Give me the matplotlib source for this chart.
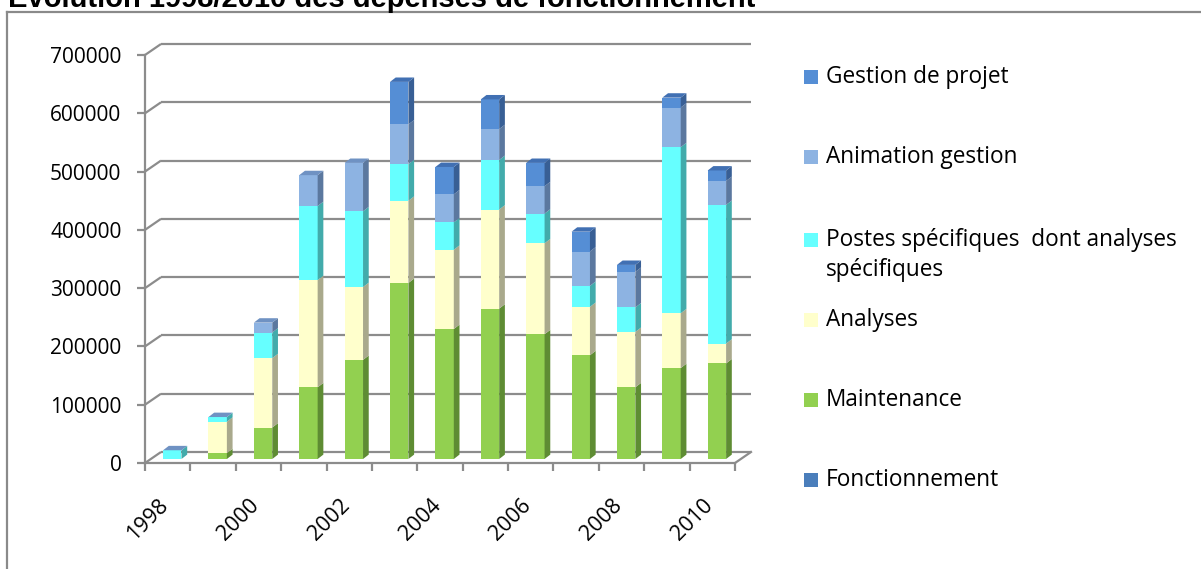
import matplotlib
matplotlib.use("Agg")
import matplotlib.pyplot as plt
from matplotlib.patches import Polygon, Rectangle
from matplotlib.lines import Line2D
from matplotlib.transforms import ScaledTranslation
import numpy as np

# ---------------- data ----------------
years = [1998, 1999, 2000, 2001, 2002, 2003, 2004, 2005, 2006, 2007, 2008, 2009, 2010]
fonctionnement = [0, 0, 0, 0, 0, 0, 0, 0, 0, 0, 0, 0, 0]
maintenance = [0, 10000, 54000, 123000, 170000, 302000, 223000, 258000, 214000, 178000, 123000, 156000, 164000]
analyses = [0, 54000, 119000, 184000, 125000, 141000, 136000, 170000, 156000, 83000, 95000, 94000, 34000]
postes = [15000, 8000, 44000, 127000, 130000, 63000, 47000, 85000, 51000, 36000, 42000, 285000, 238000]
animation = [0, 0, 17000, 53000, 83000, 68000, 48000, 53000, 47000, 59000, 61000, 68000, 41000]
gestion = [0, 0, 0, 0, 0, 73000, 47000, 51000, 40000, 34000, 12000, 17000, 18000]

series_names = ["Fonctionnement", "Maintenance", "Analyses",
                "Postes spécifiques  dont analyses\nspécifiques",
                "Animation gestion", "Gestion de projet"]
series_values = [fonctionnement, maintenance, analyses, postes, animation, gestion]
front_colors = ["#4a7ebb", "#92d050", "#ffffcc", "#66ffff", "#8db3e2", "#558ed5"]
side_colors = ["#2f5488", "#5e8c33", "#a9a98c", "#42abab", "#5b789f", "#385f95"]
y_ticks = [0, 100000, 200000, 300000, 400000, 500000, 600000, 700000]
title = "Evolution 1998/2010 des dépenses de fonctionnement"

# ---------------- figure ----------------
W, H = 1201, 569
DPI = 100
plt.rcParams['font.family'] = ['Open Sans', 'DejaVu Sans']
fig = plt.figure(figsize=(W / DPI, H / DPI), dpi=DPI)
fig.patch.set_facecolor("white")

def fx(px):
    return px / W

def fy(py):
    return 1 - py / H

AX_L, AX_R, AX_B, AX_T = 145, 735, 463, 55
ax = fig.add_axes([fx(AX_L), fy(AX_B), (AX_R - AX_L) / W, (AX_B - AX_T) / H])
n = len(years)
x = np.arange(n)
ax.set_xlim(-0.5, n - 0.5)
ax.set_ylim(0, 700000)
for s in ax.spines.values():
    s.set_visible(False)
ax.patch.set_visible(False)

ux = (AX_R - AX_L) / n          # px per x unit
uy = (AX_B - AX_T) / 700000.0   # px per y unit

def dxp(px):
    return px / ux

def dyp(py):
    return py / uy

grid_col = "#8c8c8c"
glw = 1.6
# back wall offset
wdx, wdy = dxp(16), dyp(11)
x0, x1 = -0.5, n - 0.5
for v in y_ticks:
    ax.plot([x0, x0 + wdx], [v, v + wdy], color=grid_col, lw=glw, zorder=1, clip_on=False,
            solid_capstyle="butt")
    ax.plot([x0 + wdx, x1 + wdx], [v + wdy, v + wdy], color=grid_col, lw=glw, zorder=1,
            clip_on=False, solid_capstyle="butt")
# floor right diagonal and front x axis
ax.plot([x1, x1 + wdx], [0, wdy], color=grid_col, lw=glw, zorder=1, clip_on=False)
ax.plot([x0, x1], [0, 0], color=grid_col, lw=glw, zorder=4, clip_on=False)
ax.plot([x0, x0], [0, 700000], color=grid_col, lw=glw, zorder=4, clip_on=False)

# ticks
ax.set_yticks(y_ticks)
ax.set_yticklabels([str(v) for v in y_ticks])
ax.tick_params(axis="y", direction="out", length=6, width=1.6, color=grid_col,
               pad=11, labelsize=15, labelcolor="#000000")
ax.set_xticks([])
ax.set_xticks(np.arange(-0.5, n, 1.0), minor=True)
ax.tick_params(axis="x", which="minor", direction="out", length=5.5, width=1.6, color=grid_col)

# x labels (every other year)
lab_off = ax.transData + ScaledTranslation(5 / DPI, -32 / DPI, fig.dpi_scale_trans)
for i, yr in enumerate(years):
    if i % 2 == 0:
        ax.text(i, 0, str(yr), transform=lab_off, rotation=45, ha="right", va="top",
                fontsize=15.5, color="#000000")

# bars (3D look)
bw = 18.4 / ux
bx = dxp(4.6)
by = dyp(4)
sdx, sdy = dxp(5.7), dyp(4.4)
bottoms = np.zeros(n)
for vals, fc, sc in zip(series_values, front_colors, side_colors):
    vals = np.array(vals, dtype=float)
    ax.bar(x + bx, vals, width=bw, bottom=bottoms + by, color=fc, linewidth=0, zorder=3)
    for i in range(n):
        if vals[i] <= 0:
            continue
        xr = x[i] + bx + bw / 2
        b = bottoms[i] + by
        t = b + vals[i]
        ax.add_patch(Polygon([(xr, b), (xr + sdx, b + sdy), (xr + sdx, t + sdy), (xr, t)],
                             closed=True, facecolor=sc, edgecolor="none", zorder=3))
    bottoms = bottoms + vals

gest = np.array(gestion)
for i in range(n):
    xl = x[i] + bx - bw / 2
    xr = x[i] + bx + bw / 2
    t = bottoms[i] + by
    tc = "#4170b3" if gest[i] > 0 else "#6f92c3"
    ax.add_patch(Polygon([(xl, t), (xl + sdx, t + sdy), (xr + sdx, t + sdy), (xr, t)],
                         closed=True, facecolor=tc, edgecolor="none", zorder=3))

# legend (drawn manually, reversed order)
leg_y = [480, 400, 320, 240, 157, 77]
for name, fc, yy in zip(series_names, front_colors, leg_y):
    fig.add_artist(Rectangle((fx(804), fy(yy + 7)), 14 / W, 14 / H,
                             facecolor=fc, edgecolor="none", transform=fig.transFigure))
    lines = name.split("\n")
    for k, ln in enumerate(lines):
        fig.text(fx(826), fy(yy + 30 * k), ln, ha="left", va="center",
                 fontsize=16.3, color="#000000")

# outer chart frame (only left and top visible)
fig.add_artist(Line2D([fx(7), fx(7)], [fy(12), 0], color="#8a8a8a", lw=1.6,
                      transform=fig.transFigure))
fig.add_artist(Line2D([fx(7), 1], [fy(12), fy(12)], color="#8a8a8a", lw=1.6,
                      transform=fig.transFigure))

# title (cut at the top, as in the original)
fig.text(fx(8), fy(7), title, ha="left", va="baseline", fontsize=21,
         fontweight="bold", family=["Liberation Sans", "DejaVu Sans"], color="#000000")

fig.savefig("out.png", dpi=DPI, facecolor="white")
